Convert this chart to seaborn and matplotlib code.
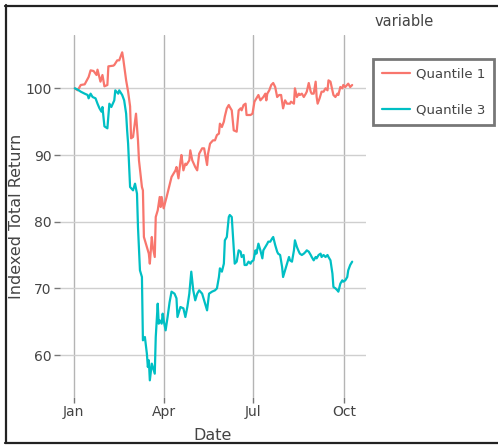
import pandas as pd
import seaborn as sns
import matplotlib.pyplot as plt
import matplotlib.dates as mdates
from matplotlib.lines import Line2D

# Days after 2020-01-01 and indexed total return
q1_days = [1, 4, 7, 11, 15, 17, 20, 23, 24, 27,
           29, 31, 34, 35, 40, 41, 44, 46, 49, 50,
           53, 55, 57, 58, 60, 63, 65, 66, 69, 70,
           71, 73, 74, 76, 77, 79, 80, 82, 83, 85,
           87, 88, 89, 91, 94, 97, 99, 101, 103, 104,
           106, 108, 109, 111, 113, 114, 117, 118, 120, 123,
           125, 127, 130, 132, 135, 136, 138, 141, 143, 145,
           147, 148, 150, 152, 153, 155, 157, 158, 160, 162,
           165, 167, 169, 170, 172, 174, 175, 179, 181, 183,
           185, 187, 189, 192, 194, 195, 196, 198, 200, 202,
           204, 206, 208, 210, 212, 214, 216, 219, 220, 223,
           224, 226, 228, 229, 231, 233, 235, 236, 238, 240,
           241, 243, 245, 246, 247, 249, 251, 253, 255, 257,
           258, 260, 262, 263, 265, 267, 268, 270, 272, 273,
           275, 278, 280, 282]
q1_vals = [100.0, 99.7, 100.5, 100.6, 101.7, 102.7, 102.6, 102.0, 102.8, 101.0,
           102.0, 100.3, 100.5, 103.3, 103.4, 103.5, 104.2, 104.2, 105.4, 104.5,
           101.2, 99.5, 97.3, 92.5, 92.7, 96.2, 92.2, 89.2, 85.2, 84.7,
           77.7, 76.7, 76.2, 75.2, 73.7, 77.7, 76.2, 74.7, 80.7, 81.7,
           83.7, 82.2, 83.7, 82.0, 83.7, 85.5, 86.7, 87.2, 87.7, 88.2,
           86.5, 89.0, 90.0, 87.7, 88.7, 88.5, 89.2, 90.7, 89.2, 88.2,
           87.7, 90.2, 91.0, 91.0, 88.5, 90.2, 91.7, 92.2, 92.2, 93.0,
           93.2, 94.7, 94.2, 95.0, 95.8, 97.0, 97.5, 97.2, 96.7, 93.7,
           93.5, 96.7, 97.0, 96.7, 97.5, 97.7, 96.0, 96.0, 96.2, 98.0,
           98.5, 99.0, 98.2, 98.7, 99.2, 98.2, 99.2, 99.7, 100.5, 100.8,
           100.2, 98.7, 99.0, 99.0, 97.0, 98.2, 97.7, 97.7, 98.0, 97.7,
           100.0, 98.7, 99.2, 99.0, 99.2, 98.7, 99.2, 99.5, 100.8, 99.5,
           99.2, 99.2, 101.0, 98.7, 97.7, 98.5, 99.5, 99.5, 100.0, 99.7,
           101.2, 101.0, 99.7, 99.0, 98.7, 99.2, 99.0, 100.2, 100.0, 100.5,
           100.2, 100.7, 100.2, 100.5]

q3_days = [1, 4, 7, 11, 14, 15, 17, 19, 22, 24,
           26, 28, 29, 31, 34, 36, 38, 41, 42, 45,
           46, 49, 51, 53, 54, 55, 57, 60, 62, 64,
           65, 67, 69, 70, 72, 74, 75, 76, 77, 79,
           80, 82, 83, 85, 86, 87, 89, 90, 91, 93,
           95, 97, 99, 102, 104, 105, 106, 108, 111, 113,
           115, 117, 119, 121, 123, 125, 127, 130, 131, 135,
           137, 140, 143, 145, 147, 148, 150, 152, 153, 155,
           157, 158, 160, 162, 163, 165, 167, 169, 170, 172,
           173, 175, 177, 179, 180, 182, 184, 185, 187, 189,
           191, 192, 194, 196, 197, 199, 201, 202, 204, 206,
           207, 209, 211, 212, 214, 216, 218, 219, 221, 223,
           224, 226, 228, 229, 231, 233, 235, 236, 238, 240,
           241, 243, 245, 246, 248, 250, 251, 253, 255, 257,
           258, 260, 262, 263, 265, 267, 268, 270, 272, 273,
           275, 277, 278, 280, 282]
q3_vals = [100.0, 99.8, 99.5, 99.2, 99.0, 98.5, 99.2, 98.7, 98.5, 97.7,
           97.0, 96.5, 97.2, 94.3, 94.0, 97.7, 97.2, 98.2, 99.7, 99.2,
           99.7, 99.0, 98.2, 96.2, 93.7, 91.7, 85.2, 84.7, 85.7, 84.2,
           79.2, 72.7, 71.7, 62.2, 62.7, 60.2, 58.2, 59.2, 56.2, 58.7,
           58.2, 57.2, 62.7, 67.7, 64.7, 65.2, 64.7, 66.2, 65.2, 63.7,
           65.7, 67.9, 69.5, 69.2, 68.5, 65.7, 66.2, 67.2, 67.0, 65.7,
           67.2, 69.2, 72.5, 69.7, 68.2, 69.2, 69.7, 69.2, 68.7, 66.7,
           69.2, 69.5, 69.7, 70.0, 71.7, 73.0, 72.5, 73.7, 77.2, 77.7,
           80.7, 81.0, 80.7, 76.2, 73.7, 74.0, 75.7, 75.5, 74.7, 75.0,
           73.5, 73.5, 74.0, 73.7, 74.0, 74.2, 75.7, 75.2, 76.7, 75.7,
           74.5, 75.7, 76.2, 76.7, 77.0, 77.0, 77.5, 77.7, 76.5, 75.5,
           75.2, 75.0, 73.2, 71.7, 72.7, 73.7, 74.7, 74.2, 74.0, 75.7,
           77.2, 76.2, 75.5, 75.2, 75.0, 75.2, 75.5, 75.7, 75.5, 75.0,
           74.7, 74.2, 74.7, 74.5, 75.0, 75.2, 74.7, 75.0, 74.7, 75.0,
           74.7, 74.2, 72.2, 70.2, 70.0, 69.7, 69.5, 70.7, 71.2, 71.0,
           71.2, 71.7, 72.7, 73.5, 74.0]

series_names = ['Quantile 1', 'Quantile 3']
series_colors = ['#F8766D', '#00BFC4']

start = pd.Timestamp('2020-01-01')
df = pd.concat([
    pd.DataFrame({'Date': start + pd.to_timedelta(q1_days, unit='D'),
                  'value': q1_vals, 'variable': series_names[0]}),
    pd.DataFrame({'Date': start + pd.to_timedelta(q3_days, unit='D'),
                  'value': q3_vals, 'variable': series_names[1]}),
], ignore_index=True)

sns.set_theme(style='white')
plt.rcParams['font.family'] = ['DejaVu Sans']

fig = plt.figure(figsize=(4.98, 4.45), dpi=100)
ax = fig.add_axes([60 / 498, 48 / 445, 306 / 498, 362 / 445])

sns.lineplot(data=df, x='Date', y='value', hue='variable',
             palette=dict(zip(series_names, series_colors)),
             linewidth=1.6, legend=False, ax=ax)

ax.set_xlim(pd.Timestamp('2019-12-18'), pd.Timestamp('2020-10-23'))
ax.set_ylim(53.7, 108)
ax.set_yticks([60, 70, 80, 90, 100])
ax.xaxis.set_major_locator(mdates.MonthLocator(bymonth=[1, 4, 7, 10]))
ax.xaxis.set_major_formatter(mdates.DateFormatter('%b'))

ax.set_axisbelow(True)
ax.xaxis.grid(True, color='#b4b4b4', linewidth=1)
ax.yaxis.grid(True, color='#cfcfcf', linewidth=1)
for s in ax.spines.values():
    s.set_visible(False)
ax.tick_params(axis='both', length=4, width=1, color='#777777',
               labelsize=10, labelcolor='#444444', pad=2, bottom=True, left=True)

ax.set_xlabel('Date', fontsize=11.5, color='#444444')
ax.xaxis.label.set_va('center')
ax.xaxis.set_label_coords(0.5, (397 - 436) / 362)
ax.set_ylabel('Indexed Total Return', fontsize=11.5, color='#444444')
ax.yaxis.label.set_va('center')
ax.yaxis.set_label_coords((17 - 60) / 306, 0.5)

# legend with title sitting above the box
fig.text(375 / 498, 1 - 22 / 445, 'variable', ha='left', va='center',
         fontsize=10.5, color='#444444')
handles = [Line2D([], [], color=c, linewidth=1.6) for c in series_colors]
leg = fig.legend(handles, series_names, loc='upper left',
                 bbox_to_anchor=(373 / 498, 1 - 59 / 445), frameon=True,
                 fancybox=False, edgecolor='#555555', fontsize=9.5,
                 handlelength=2.15, handletextpad=0.45, labelspacing=1.75,
                 borderpad=0.65, borderaxespad=0)
leg.get_frame().set_linewidth(2)
for t in leg.get_texts():
    t.set_color('#444444')

# screenshot frame
for xs, ys in [([5 / 498, 1], [1 - 5.5 / 445] * 2),
               ([5.5 / 498] * 2, [2.5 / 445, 1 - 5 / 445]),
               ([5 / 498, 1], [2.5 / 445] * 2)]:
    fig.add_artist(Line2D(xs, ys, color='#222222', linewidth=1.6,
                          transform=fig.transFigure))

fig.savefig('out.png', dpi=100)
